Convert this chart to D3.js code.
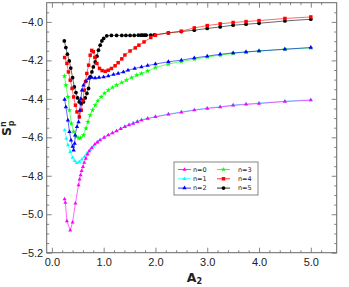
<!DOCTYPE html>
<html>
<head>
<meta charset="utf-8">
<script src="https://cdn.jsdelivr.net/npm/d3@7"></script>
<style>
  body { margin: 0; background: #fff; }
  svg { display: block; font-family: "DejaVu Sans", sans-serif; }
</style>
</head>
<body>
<div id="chart"></div>
<script>
// A2 values and S_p^n values
const a0 = [0.246, 0.26, 0.29, 0.355, 0.40, 0.455, 0.515, 0.535, 0.555, 0.575, 0.60, 0.625, 0.655, 0.69, 0.72, 0.77, 0.83, 0.88, 0.93, 1.01, 1.09, 1.17, 1.25, 1.33, 1.41, 1.49, 1.57, 1.65, 1.73, 1.85, 2.0, 2.25, 2.5, 2.75, 3.0, 3.25, 3.5, 3.75, 4.0, 4.5, 5.0];
const s0 = [-4.921, -4.94, -5.035, -5.084, -5.042, -4.943, -4.848, -4.819, -4.796, -4.774, -4.753, -4.732, -4.71, -4.689, -4.672, -4.655, -4.637, -4.625, -4.615, -4.601, -4.589, -4.578, -4.568, -4.556, -4.545, -4.536, -4.528, -4.519, -4.511, -4.503, -4.494, -4.481, -4.47, -4.459, -4.45, -4.443, -4.434, -4.429, -4.424, -4.414, -4.407];

const a1 = [0.246, 0.28, 0.31, 0.355, 0.40, 0.44, 0.48, 0.53, 0.58, 0.63, 0.675, 0.74, 0.80, 0.87, 0.93, 1.01, 1.09, 1.17, 1.25, 1.33, 1.41, 1.49, 1.57, 1.65, 1.73, 1.85, 2.0, 2.25, 2.5, 2.75, 3.0, 3.25, 3.5, 3.75, 4.0, 4.5, 5.0];
const s1 = [-4.563, -4.606, -4.64, -4.675, -4.705, -4.722, -4.733, -4.727, -4.715, -4.701, -4.684, -4.665, -4.647, -4.629, -4.613, -4.599, -4.587, -4.576, -4.566, -4.554, -4.543, -4.534, -4.526, -4.517, -4.509, -4.501, -4.492, -4.479, -4.468, -4.457, -4.448, -4.441, -4.432, -4.427, -4.422, -4.412, -4.405];

const a2 = [0.246, 0.27, 0.31, 0.34, 0.37, 0.40, 0.42, 0.44, 0.45, 0.485, 0.515, 0.54, 0.56, 0.58, 0.61, 0.66, 0.71, 0.77, 0.835, 0.91, 1.0, 1.09, 1.19, 1.28, 1.38, 1.47, 1.6, 1.73, 1.85, 2.0, 2.25, 2.5, 2.75, 3.0, 3.25, 3.5, 3.75, 4.0, 4.5, 5.0];
const s2 = [-4.403, -4.442, -4.511, -4.571, -4.615, -4.648, -4.667, -4.632, -4.589, -4.545, -4.520, -4.46, -4.40, -4.355, -4.329, -4.307, -4.294, -4.289, -4.291, -4.289, -4.286, -4.281, -4.273, -4.268, -4.26, -4.251, -4.242, -4.234, -4.227, -4.219, -4.207, -4.199, -4.187, -4.178, -4.168, -4.161, -4.156, -4.151, -4.142, -4.133];

const a3 = [0.243, 0.27, 0.31, 0.34, 0.375, 0.42, 0.47, 0.52, 0.55, 0.61, 0.658, 0.696, 0.74, 0.785, 0.837, 0.888, 0.952, 1.015, 1.09, 1.17, 1.25, 1.35, 1.44, 1.54, 1.64, 1.73, 1.85, 2.0, 2.25, 2.5, 2.75, 3.0, 3.25, 3.5, 3.75, 4.0, 4.5, 5.0];
const s3 = [-4.282, -4.329, -4.39, -4.459, -4.528, -4.571, -4.597, -4.604, -4.603, -4.589, -4.554, -4.52, -4.485, -4.459, -4.433, -4.41, -4.39, -4.372, -4.355, -4.341, -4.329, -4.315, -4.303, -4.289, -4.277, -4.268, -4.255, -4.237, -4.219, -4.206, -4.194, -4.182, -4.173, -4.164, -4.157, -4.151, -4.142, -4.135];

const a4 = [0.246, 0.29, 0.32, 0.355, 0.39, 0.42, 0.455, 0.485, 0.53, 0.567, 0.60, 0.625, 0.65, 0.675, 0.71, 0.74, 0.77, 0.80, 0.83, 0.87, 0.92, 0.97, 1.03, 1.09, 1.15, 1.22, 1.28, 1.35, 1.41, 1.51, 1.61, 1.68, 1.78, 1.91, 2.0, 2.25, 2.5, 2.75, 3.0, 3.25, 3.5, 3.75, 4.0, 4.5, 5.0];
const s4 = [-4.185, -4.216, -4.26, -4.303, -4.346, -4.39, -4.433, -4.468, -4.494, -4.459, -4.407, -4.355, -4.31, -4.268, -4.225, -4.173, -4.148, -4.155, -4.185, -4.216, -4.242, -4.253, -4.257, -4.251, -4.242, -4.228, -4.212, -4.192, -4.172, -4.151, -4.135, -4.121, -4.104, -4.081, -4.069, -4.057, -4.048, -4.031, -4.019, -4.010, -4.003, -3.998, -3.993, -3.982, -3.974];

const a5 = [0.24, 0.27, 0.30, 0.335, 0.365, 0.40, 0.433, 0.465, 0.496, 0.529, 0.567, 0.61, 0.644, 0.677, 0.708, 0.74, 0.773, 0.80, 0.837, 0.87, 0.90, 0.933, 0.965, 1.0, 1.06, 1.15, 1.25, 1.35, 1.43, 1.51, 1.59, 1.67, 1.72, 1.75, 1.79, 1.82, 1.91, 1.98, 2.25, 2.5, 2.75, 3.0, 3.25, 3.5, 3.75, 4.0, 4.5, 5.0];
const s5 = [-4.099, -4.133, -4.168, -4.203, -4.24, -4.29, -4.338, -4.367, -4.395, -4.416, -4.425, -4.416, -4.395, -4.372, -4.346, -4.286, -4.26, -4.234, -4.208, -4.178, -4.147, -4.121, -4.099, -4.086, -4.072, -4.07, -4.07, -4.07, -4.07, -4.07, -4.07, -4.069, -4.069, -4.069, -4.069, -4.069, -4.068, -4.067, -4.057, -4.05, -4.043, -4.034, -4.026, -4.017, -4.012, -4.007, -3.995, -3.986];

const labels = ['n=0', 'n=1', 'n=2', 'n=3', 'n=4', 'n=5'];
const colors = ['#ff00ff', '#00ffff', '#0000ff', '#00ff00', '#ff0000', '#000000'];
const xTicks = [0, 1, 2, 3, 4, 5];
const yTicks = [-5.2, -5.0, -4.8, -4.6, -4.4, -4.2, -4.0];

const width = 349, height = 287;
const plot = { left: 46.7, right: 336.7, top: 2.7, bottom: 252.7 };

const series = [[a0, s0], [a1, s1], [a2, s2], [a3, s3], [a4, s4], [a5, s5]].map(([a, s], i) => ({
  name: labels[i],
  color: colors[i],
  values: a.map((d, j) => ({ x: d, y: s[j] })),
}));

const symbols = [
  { type: d3.symbolTriangle, size: 7 },
  { type: d3.symbolTriangle, size: 7 },
  { type: d3.symbolTriangle, size: 8 },
  { type: d3.symbolStar, size: 9 },
  { type: d3.symbolSquare, size: 12 },
  { type: d3.symbolCircle, size: 11 },
];

const svg = d3.select('#chart').append('svg')
  .attr('width', width)
  .attr('height', height);

const x = d3.scaleLinear().domain([-0.1, 5.5]).range([plot.left, plot.right]);
const y = d3.scaleLinear().domain([-5.2, -3.9]).range([plot.bottom, plot.top]);

const xMinor = d3.range(0, 27).map(i => i * 0.2).filter(v => v <= 5.4 && Math.abs(v % 1) > 0.01 && Math.abs(v % 1 - 1) > 0.01);
const yMinor = d3.range(0, 26).map(i => -5.2 + i * 0.05).filter(v => v < -3.9 && Math.abs(Math.round(v * 5) - v * 5) > 0.01);

function styleAxis(g) {
  g.select('.domain').remove();
  g.selectAll('.tick line').attr('stroke', '#666').attr('stroke-width', 0.8);
  g.selectAll('.tick text').attr('fill', '#222').style('font-size', '11px');
}

// major ticks with labels
svg.append('g')
  .attr('transform', `translate(0,${plot.bottom})`)
  .call(d3.axisBottom(x).tickValues(xTicks).tickSize(-5).tickPadding(5.5).tickFormat(d3.format('.1f')))
  .call(styleAxis);
svg.append('g')
  .attr('transform', `translate(${plot.left},0)`)
  .call(d3.axisLeft(y).tickValues(yTicks).tickSize(-5).tickPadding(3.5).tickFormat(d3.format('.1f')))
  .call(styleAxis);
// mirrored ticks
svg.append('g')
  .attr('transform', `translate(0,${plot.top})`)
  .call(d3.axisTop(x).tickValues(xTicks).tickSize(-5).tickFormat(''))
  .call(styleAxis);
svg.append('g')
  .attr('transform', `translate(${plot.right},0)`)
  .call(d3.axisRight(y).tickValues(yTicks).tickSize(-5).tickFormat(''))
  .call(styleAxis);
// minor ticks
svg.append('g').attr('transform', `translate(0,${plot.bottom})`)
  .call(d3.axisBottom(x).tickValues(xMinor).tickSize(-2.5).tickFormat('')).call(styleAxis);
svg.append('g').attr('transform', `translate(0,${plot.top})`)
  .call(d3.axisTop(x).tickValues(xMinor).tickSize(-2.5).tickFormat('')).call(styleAxis);
svg.append('g').attr('transform', `translate(${plot.left},0)`)
  .call(d3.axisLeft(y).tickValues(yMinor).tickSize(-2.5).tickFormat('')).call(styleAxis);
svg.append('g').attr('transform', `translate(${plot.right},0)`)
  .call(d3.axisRight(y).tickValues(yMinor).tickSize(-2.5).tickFormat('')).call(styleAxis);

svg.append('rect')
  .attr('x', plot.left).attr('y', plot.top)
  .attr('width', plot.right - plot.left).attr('height', plot.bottom - plot.top)
  .attr('fill', 'none').attr('stroke', '#666').attr('stroke-width', 1);

const line = d3.line().x(d => x(d.x)).y(d => y(d.y));

// n=5 first so that n=0 sits on top
const order = d3.range(series.length).reverse();
order.forEach(i => {
  const s = series[i];
  const g = svg.append('g').attr('class', 'series');
  g.append('path')
    .datum(s.values)
    .attr('fill', 'none')
    .attr('stroke', s.color)
    .attr('stroke-opacity', 0.75)
    .attr('stroke-width', 0.8)
    .attr('d', line);
  g.selectAll('path.mark')
    .data(s.values)
    .enter().append('path')
    .attr('class', 'mark')
    .attr('transform', d => `translate(${x(d.x)},${y(d.y)})`)
    .attr('d', d3.symbol(symbols[i].type, symbols[i].size))
    .attr('fill', s.color);
});

// legend
const legend = svg.append('g');
legend.append('rect')
  .attr('x', 174).attr('y', 162).attr('width', 84).attr('height', 33)
  .attr('fill', '#fff').attr('stroke', '#666').attr('stroke-width', 0.8);
series.forEach((s, i) => {
  const col = Math.floor(i / 3), row = i % 3;
  const lx = col ? 217 : 178;
  const ly = 169.5 + row * 9.3;
  const g = legend.append('g');
  g.append('line')
    .attr('x1', lx).attr('x2', lx + 13).attr('y1', ly).attr('y2', ly)
    .attr('stroke', s.color).attr('stroke-width', 0.8);
  g.append('path')
    .attr('transform', `translate(${lx + 6.5},${ly})`)
    .attr('d', d3.symbol(symbols[i].type, symbols[i].size))
    .attr('fill', s.color);
  g.append('text')
    .attr('x', col ? 238 : 193)
    .attr('y', ly)
    .attr('dy', '0.35em')
    .style('font-size', '6.5px')
    .attr('fill', '#222')
    .text(s.name);
});

// axis titles
const yTitle = svg.append('text')
  .attr('transform', 'translate(10.5,136) rotate(-90)')
  .style('font-size', '12.5px')
  .style('font-weight', 'bold')
  .attr('fill', '#222');
yTitle.append('tspan').text('S');
yTitle.append('tspan').attr('dy', -4.5).style('font-size', '8px').text('n');
yTitle.append('tspan').attr('dx', -5).attr('dy', 8).style('font-size', '8px').text('p');

const xTitle = svg.append('text')
  .attr('x', 186.7).attr('y', 281.5)
  .style('font-size', '12.5px')
  .style('font-weight', 'bold')
  .attr('fill', '#222');
xTitle.append('tspan').text('A');
xTitle.append('tspan').attr('dy', 2.5).style('font-size', '8px').text('2');
</script>
</body>
</html>
